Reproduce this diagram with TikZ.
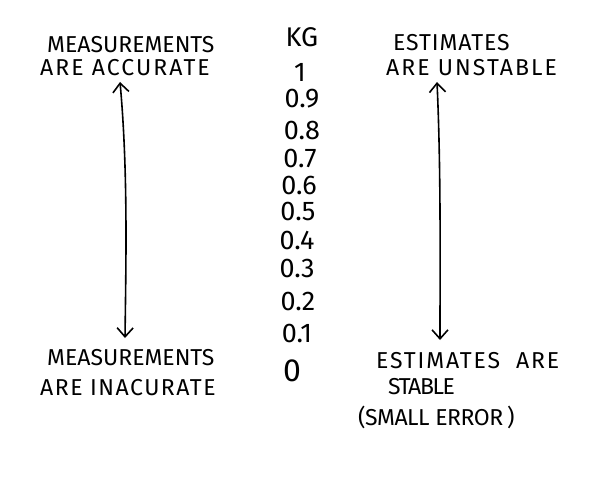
\documentclass[tikz,border=0pt]{standalone}
\usepackage{fontspec}
\setmainfont{Fira Sans}
\usetikzlibrary{arrows.meta}
\begin{document}
\begin{tikzpicture}[x=1pt,y=-1pt,
  lbl/.style={anchor=west,inner sep=0pt,font=\fontsize{23}{26}\selectfont\addfontfeature{LetterSpace=#1}},
  lbl/.default=4,
  num/.style={inner sep=0pt,font=\fontsize{27}{30}\selectfont},
  dbl/.style={line width=1.6pt,{Straight Barb[length=9pt,width=16pt,line width=1.6pt]}-{Straight Barb[length=9pt,width=16pt,line width=1.6pt]}}]
\useasboundingbox (0,0) rectangle (609,476);
% left column
\node[lbl=0] (m1) at (47,45) {MEASUREMENTS};
\node[lbl=9] (a1) at (40,68) {ARE ACCURATE};
\node[lbl=0] (m2) at (47,358) {MEASUREMENTS};
\node[lbl=6.5] (a2) at (40,388) {ARE INACURATE};
% scale
\node[num] (kg) at (302,37) {KG};
\node[num] (n10) at (300,72) {1};
\node[num] (n9) at (302,99) {0.9};
\node[num] (n8) at (302,130) {0.8};
\node[num] (n7) at (300,158) {0.7};
\node[num] (n6) at (299,185) {0.6};
\node[num] (n5) at (298,211) {0.5};
\node[num] (n4) at (297,240) {0.4};
\node[num] (n3) at (297,268) {0.3};
\node[num] (n2) at (298,301) {0.2};
\node[num] (n1) at (297,333) {0.1};
\node[num,font=\fontsize{32}{34}\selectfont] (n0) at (292,371) {0};
% right column
\node[lbl] (e1) at (393,43) {ESTIMATES};
\node[lbl=9] (u1) at (386,68) {ARE UNSTABLE};
\node[lbl=8] (e2) at (376,361) {ESTIMATES\ \ ARE};
\node[lbl=-6] (s2) at (388,387) {STABLE};
\node[lbl=-2] (se) at (358,417) {(SMALL ERROR\,)};
% arrows
\coordinate (lt) at (120,82);
\coordinate (lb) at (125,338);
\coordinate (rt) at (437,82);
\coordinate (rb) at (440,340);
\draw[dbl] (lt) .. controls (128,170) and (126,260) .. (lb);
\draw[dbl] (rt) .. controls (441,170) and (440,260) .. (rb);
\end{tikzpicture}
\end{document}
